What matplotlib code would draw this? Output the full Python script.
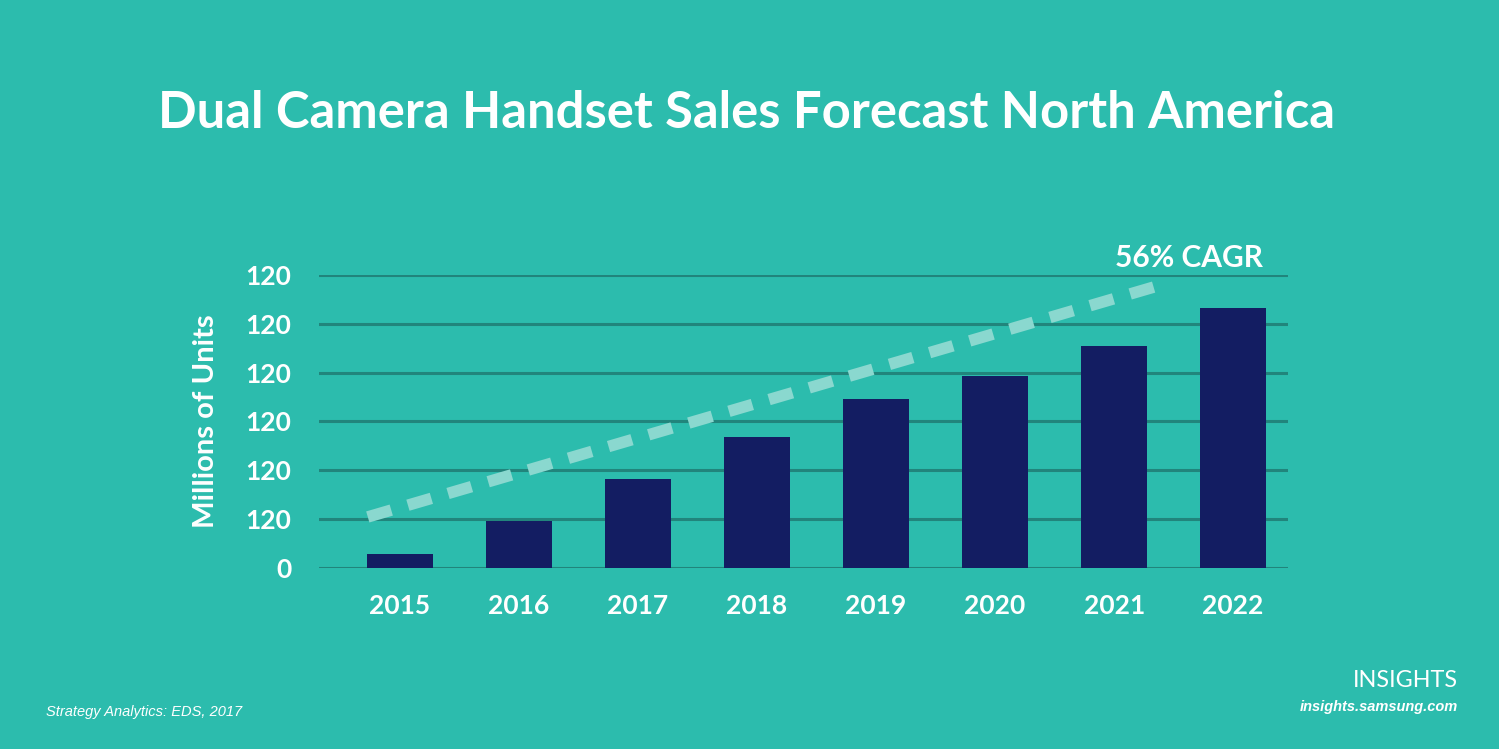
import matplotlib
matplotlib.use("Agg")
import matplotlib.pyplot as plt
import numpy as np

# chart data
years = ["2015", "2016", "2017", "2018", "2019", "2020", "2021", "2022"]
units = [5.7, 19.3, 36.5, 53.7, 69.3, 78.7, 91.0, 106.6]
ytick_vals = [0, 20, 40, 60, 80, 100, 120]
ytick_labels = ["0", "120", "120", "120", "120", "120", "120"]
trend_x = [-0.27, 6.37]
trend_y = [20.9, 115.6]

bg = "#2cbcad"
navy = "#131d62"
grid_c = "#21857c"

plt.rcParams['font.family'] = ['Lato', 'DejaVu Sans']
plt.rcParams['lines.scale_dashes'] = False

fig = plt.figure(figsize=(14.99, 7.49), dpi=100, facecolor=bg)
ax = fig.add_axes([0.2128, 0.2417, 0.6464, 0.3911])
ax.set_facecolor(bg)

x = np.arange(len(years))
ax.bar(x, units, width=0.555, color=navy, zorder=3)

# dashed CAGR trend
ax.plot(trend_x, trend_y, color="#8ad8cf", lw=8.3, dashes=(17.6, 12.5),
        dash_capstyle="butt", zorder=4, clip_on=False)

ax.set_xlim(-0.68, 7.46)
ax.set_ylim(0, 120)
ax.set_yticks(ytick_vals)
ax.set_yticklabels(ytick_labels)
ax.set_xticks(x)
ax.set_xticklabels(years)
ax.yaxis.grid(True, color=grid_c, lw=2.2, zorder=1)
ax.set_axisbelow(True)
for s in ax.spines.values():
    s.set_visible(False)
ax.tick_params(axis="both", length=0, colors="white", labelsize=19)
ax.tick_params(axis="y", pad=20)
ax.tick_params(axis="x", pad=19)
for lbl in ax.get_xticklabels() + ax.get_yticklabels():
    lbl.set_fontweight("bold")

ax.set_ylabel("Millions of Units", color="white", fontsize=21, fontweight="bold", labelpad=19)

ax.text(6.63, 127, "56% CAGR", color="white", fontsize=21.5, fontweight="bold",
        ha="center", va="center")

fig.text(0.4983, 0.849, "Dual Camera Handset Sales Forecast North America",
         color="white", fontsize=36.5, fontweight="bold", ha="center", va="center")
fig.text(0.9727, 0.091, "INSIGHTS", color="white", fontsize=16.8, ha="right", va="center")
fig.text(0.9727, 0.056, "insights.samsung.com", color="white", fontsize=10.5,
         fontweight="bold", style="italic", ha="right", va="center",
         family=["Liberation Sans", "DejaVu Sans"])
fig.text(0.0307, 0.050, "Strategy Analytics: EDS, 2017", color="white", fontsize=10.5,
         style="italic", ha="left", va="center", family=["Liberation Sans", "DejaVu Sans"])

fig.savefig("out.png", dpi=100, facecolor=bg)
